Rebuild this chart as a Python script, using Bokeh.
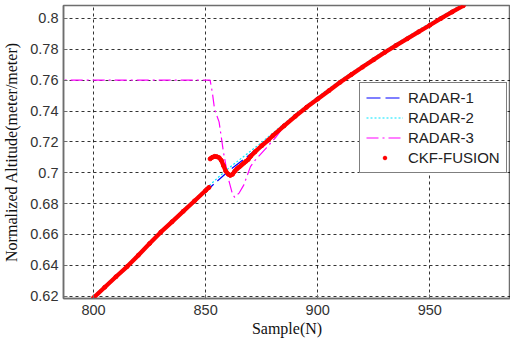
from bokeh.plotting import figure
from bokeh.models import Range1d, FixedTicker, CustomJSTickFormatter, Legend, LegendItem
from bokeh.embed import file_html
from bokeh.resources import INLINE

nan = float("nan")

# ---- data ----
x_ticks = [800, 850, 900, 950]
y_ticks = [0.62, 0.64, 0.66, 0.68, 0.70, 0.72, 0.74, 0.76, 0.78, 0.80]

radar_x = [800, 805, 810, 815, 820, 825, 830, 835, 840, 845, 850, 855, 860, 865,
           870, 875, 880, 885, 890, 895, 900, 905, 910, 915, 920, 925, 930, 935,
           940, 945, 950, 955, 960, 965]
radar1 = [0.6183, 0.6251, 0.6318, 0.6384, 0.6458, 0.6533, 0.6607, 0.6674, 0.6742,
          0.6809, 0.6877, 0.6944, 0.7008, 0.7065, 0.7122, 0.7178, 0.7239, 0.7300,
          0.7361, 0.7419, 0.7473, 0.7527, 0.7581, 0.7630, 0.7679, 0.7727, 0.7775,
          0.7820, 0.7863, 0.7907, 0.7950, 0.7994, 0.8036, 0.8077]
radar2 = [0.6201, 0.6269, 0.6336, 0.6402, 0.6476, 0.6551, 0.6625, 0.6692, 0.6760,
          0.6827, 0.6895, 0.6962, 0.7026, 0.7083, 0.7140, 0.7196, 0.7257, 0.7318,
          0.7379, 0.7437, 0.7491, 0.7545, 0.7599, 0.7648, 0.7697, 0.7745, 0.7793,
          0.7838, 0.7881, 0.7925, 0.7968, 0.8012, 0.8054, 0.8095]

radar3_x = [780, 800, 820, 840, 852, 853, 854, 856, 858, 860, 862, 863, 865, 867,
            870, 872, 877, 881, 885, 890, 900, 910, 920, 930, 940, 950, 960, 965]
radar3 = [0.760, 0.760, 0.760, 0.760, 0.760, 0.752, 0.741, 0.733, 0.713, 0.697,
          0.686, 0.684, 0.687, 0.692, 0.704, 0.708, 0.716, 0.7225, 0.7302, 0.7364,
          0.7478, 0.7585, 0.7684, 0.7780, 0.7868, 0.7955, 0.8040, 0.8082]

fusion_x = [800, 805, 810, 815, 820, 825, 830, 835, 840, 845, 850, 851.5, 851.8,
            852, 853, 854, 855, 856, 857, 858, 859, 860, 861, 862, 863, 864, 865,
            866, 867, 868, 869, 870, 872, 875, 878, 880, 885, 890, 895, 900, 905,
            910, 915, 920, 925, 930, 935, 940, 945, 950, 955, 960, 965]
fusion = [0.6190, 0.6258, 0.6326, 0.6392, 0.6466, 0.6541, 0.6615, 0.6682, 0.6750,
          0.6817, 0.6885, 0.6905, nan,
          0.7090, 0.7100, 0.7106, 0.7104, 0.7098, 0.7080, 0.7045, 0.7010, 0.6992,
          0.6983, 0.6990, 0.7010, 0.7026, 0.7037, 0.7050, 0.7062, 0.7074, 0.7086,
          0.7105, 0.7135, 0.7175, 0.7212, 0.7240, 0.7304, 0.7366, 0.7424, 0.7478,
          0.7532, 0.7586, 0.7636, 0.7685, 0.7733, 0.7781, 0.7826, 0.7869, 0.7913,
          0.7956, 0.8000, 0.8042, 0.8083]

labels = ["RADAR-1", "RADAR-2", "RADAR-3", "CKF-FUSION"]

# ---- figure ----
p = figure(width=510, height=340, output_backend="svg", toolbar_location=None,
           x_range=Range1d(786.6, 986.0), y_range=Range1d(0.6185, 0.8084),
           min_border_left=62, min_border_right=0, min_border_top=5,
           min_border_bottom=42)

r3 = p.line(radar3_x, radar3, line_color="#ff00ff", line_width=1.2, line_dash="12 4 2 4")
r2 = p.line(radar_x, radar2, line_color="#00e5ff", line_width=1.2, line_dash="2 2")
r1 = p.line(radar_x, radar1, line_color="#0000ff", line_width=1.2, line_dash="14 5")
p.line(fusion_x, fusion, line_color="#ff0000", line_width=4.3)
rf = p.scatter(fusion_x, fusion, marker="circle", size=4, color="#ff0000")

legend = Legend(items=[LegendItem(label=labels[0], renderers=[r1]),
                       LegendItem(label=labels[1], renderers=[r2]),
                       LegendItem(label=labels[2], renderers=[r3]),
                       LegendItem(label=labels[3], renderers=[rf])],
                location=(296, 125.5))
legend.border_line_color = "black"
legend.border_line_width = 1
legend.background_fill_color = "white"
legend.background_fill_alpha = 1
legend.label_text_font = "Liberation Sans"
legend.label_text_font_size = "15px"
legend.label_text_color = "#222222"
legend.glyph_width = 37
legend.glyph_height = 9
legend.label_height = 16
legend.spacing = 3
legend.padding = 6
legend.margin = 0
legend.label_standoff = 5
p.add_layout(legend)

fmt = CustomJSTickFormatter(code="return String(parseFloat(tick.toFixed(4)));")
p.xaxis.ticker = FixedTicker(ticks=x_ticks)
p.yaxis.ticker = FixedTicker(ticks=y_ticks)
p.xaxis.formatter = fmt
p.yaxis.formatter = fmt

for ax in (p.xaxis, p.yaxis):
    ax.axis_line_color = "#6e6e6e"
    ax.axis_line_width = 1.5
    ax.major_tick_in = 4
    ax.major_tick_out = 0
    ax.major_tick_line_color = "#6e6e6e"
    ax.minor_tick_line_color = None
    ax.major_label_text_font = "Liberation Sans"
    ax.major_label_text_font_size = "14.5px"
    ax.major_label_text_color = "#333333"
    ax.axis_label_text_font = "Liberation Serif"
    ax.axis_label_text_font_size = "16px"
    ax.axis_label_text_font_style = "normal"
    ax.axis_label_text_color = "#111111"

p.xaxis.axis_label = "Sample(N)"
p.yaxis.axis_label = "Normalized Altitude(meter/meter)"
p.xaxis.major_label_standoff = 6
p.yaxis.major_label_standoff = 5
p.xaxis.axis_label_standoff = 2
p.yaxis.axis_label_standoff = 7

for g in (p.xgrid, p.ygrid):
    g.grid_line_color = "#000000"
    g.grid_line_alpha = 0.8
    g.grid_line_dash = "3 3"
    g.grid_line_width = 1

p.outline_line_color = "#6e6e6e"
p.outline_line_width = 1.5
p.background_fill_color = "white"
p.border_fill_color = "white"

open("out.html", "w").write(file_html(p, INLINE))
